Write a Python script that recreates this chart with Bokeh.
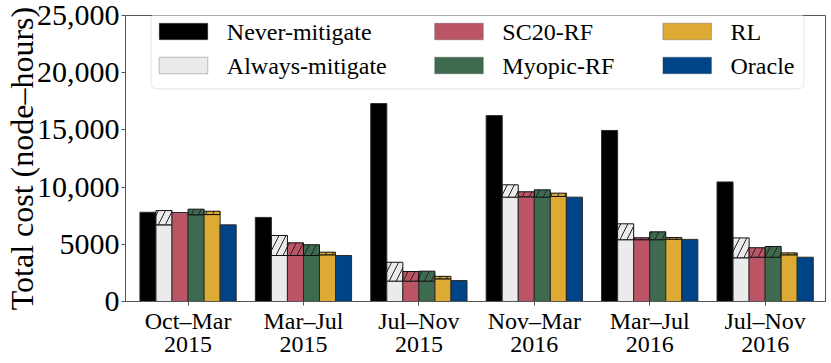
from bokeh.plotting import figure
from bokeh.models import Range1d, FixedTicker, BoxAnnotation, Label
from bokeh.embed import file_html
from bokeh.resources import INLINE

# ---- data ----
periods = ["Oct–Mar\n2015", "Mar–Jul\n2015", "Jul–Nov\n2015",
           "Nov–Mar\n2016", "Mar–Jul\n2016", "Jul–Nov\n2016"]

never_mitigate = [7800, 7350, 17300, 16250, 14950, 10450]

always_base = [6700, 4020, 1780, 9120, 5400, 3820]
always_total = [7950, 5770, 3430, 10200, 6790, 5560]

sc20_base = [7780, 4020, 1780, 9150, 5400, 3870]
sc20_total = [7780, 5130, 2620, 9590, 5570, 4700]

myopic_base = [7580, 4020, 1780, 9120, 5400, 3870]
myopic_total = [8070, 4960, 2650, 9760, 6090, 4810]

rl_base = [7600, 4080, 1980, 9180, 5440, 4080]
rl_total = [7890, 4310, 2200, 9470, 5590, 4250]

oracle = [6700, 4020, 1830, 9120, 5430, 3870]

series_names = ["Never-mitigate", "Always-mitigate", "SC20-RF", "Myopic-RF", "RL", "Oracle"]
series_colors = ["#000000", "#EBEBEB", "#BB5566", "#3E6B4F", "#DDAA33", "#004488"]

y_ticks = [0, 5000, 10000, 15000, 20000, 25000]
y_tick_labels = ["0", "5000", "10,000", "15,000", "20,000", "25,000"]

FONT = "Liberation Serif"

series = [
    (never_mitigate, never_mitigate),
    (always_base, always_total),
    (sc20_base, sc20_total),
    (myopic_base, myopic_total),
    (rl_base, rl_total),
    (oracle, oracle),
]

x = list(range(len(periods)))
bar_w = 0.139

p = figure(width=831, height=363, output_backend="svg", toolbar_location=None,
           x_range=Range1d(-0.542, 5.523), y_range=Range1d(0, 25000),
           min_border_left=123, min_border_right=6, min_border_top=15,
           min_border_bottom=62)

for i, ((base, total), name, color) in enumerate(zip(series, series_names, series_colors)):
    off = (i - 2.5) * bar_w
    xs = [xi + off for xi in x]
    p.vbar(x=xs, top=base, bottom=0, width=bar_w, fill_color=color,
           line_color="#2a2a2a", line_width=1)
    hx, hb, ht = [], [], []
    for xi, b, t in zip(xs, base, total):
        if t > b:
            hx.append(xi); hb.append(b); ht.append(t)
    if hx:
        p.vbar(x=hx, top=ht, bottom=hb, width=bar_w, fill_color=color,
               line_color="#111111", line_width=1,
               hatch_pattern="/", hatch_color="#222222", hatch_weight=1,
               hatch_scale=14)

# ---- legend (drawn in screen units relative to the plot frame) ----
box = BoxAnnotation(left=25.5, right=678.4, bottom=212.7, top=288.3,
                    left_units="screen", right_units="screen",
                    bottom_units="screen", top_units="screen",
                    fill_color="white", fill_alpha=1.0,
                    line_color="#b0b0b0", line_width=1, border_radius=5)
p.add_layout(box)

col_x = [33.7, 309.2, 537.4]
row_y = [270, 236]
sw_w, sw_h, standoff = 48.6, 16.6, 19
for i, (name, color) in enumerate(zip(series_names, series_colors)):
    cx = col_x[i // 2]
    cy = row_y[i % 2]
    sw = BoxAnnotation(left=cx, right=cx + sw_w, bottom=cy - sw_h / 2, top=cy + sw_h / 2,
                       left_units="screen", right_units="screen",
                       bottom_units="screen", top_units="screen",
                       fill_color=color, fill_alpha=1.0,
                       line_color="#3a3a3a", line_width=1)
    p.add_layout(sw)
    lab = Label(x=cx + sw_w + standoff, y=cy, x_units="screen", y_units="screen",
                text=name, text_font=FONT, text_font_size="24px",
                text_color="#000000", text_align="left", text_baseline="middle")
    p.add_layout(lab)

p.xgrid.visible = False
p.ygrid.visible = False
p.outline_line_color = "#555555"
p.outline_line_width = 1

p.xaxis.ticker = FixedTicker(ticks=x)
p.xaxis.major_label_overrides = {xi: lab for xi, lab in zip(x, periods)}
p.yaxis.ticker = FixedTicker(ticks=y_ticks)
p.yaxis.major_label_overrides = {t: lab for t, lab in zip(y_ticks, y_tick_labels)}

for ax in (p.xaxis[0], p.yaxis[0]):
    ax.axis_line_color = "#555555"
    ax.major_tick_line_color = "#555555"
    ax.minor_tick_line_color = None
    ax.major_tick_out = 4
    ax.major_tick_in = 0
    ax.major_label_text_font = FONT
    ax.major_label_text_color = "#000000"

p.xaxis.major_label_text_font_size = "24px"
p.xaxis.major_label_text_line_height = 0.92
p.xaxis.major_label_standoff = 2
p.yaxis.major_label_text_font_size = "30px"
p.yaxis.major_label_standoff = 2
p.yaxis.axis_label = "Total cost (node–hours)"
p.yaxis.axis_label_text_font = FONT
p.yaxis.axis_label_text_font_size = "32px"
p.yaxis.axis_label_text_font_style = "normal"
p.yaxis.axis_label_text_color = "#000000"
p.yaxis.axis_label_standoff = -6

open("out.html", "w").write(file_html(p, INLINE))
